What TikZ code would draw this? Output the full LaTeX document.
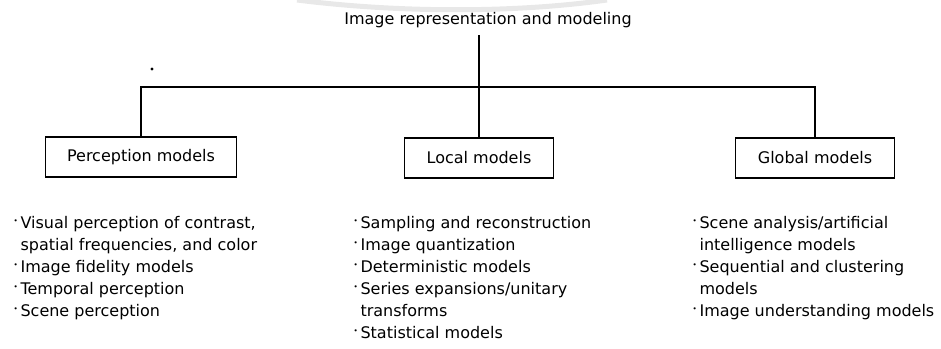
\documentclass[tikz,border=0pt]{standalone}
\usepackage{graphicx}
\usepackage{fontspec}
\setmainfont{DejaVu Sans}

\newcommand{\bul}{\makebox[7pt][l]{\raisebox{0.55ex}{\scalebox{0.45}{\textbullet}}}}
\newcommand{\nob}{\hspace*{7pt}}

\begin{document}
\begin{tikzpicture}[x=1pt,y=-1pt,line width=1.1pt,
  font=\fontsize{16}{22}\selectfont,
  box/.style={draw,minimum height=40pt,inner xsep=22pt},
  list/.style={anchor=north west,align=left,inner sep=0pt}]
\useasboundingbox (0,0) rectangle (941,348);

\draw[gray!18,line width=5pt] (297,0) .. controls (400,13) and (515,13) .. (607,0);

\node[anchor=base] (title) at (488,24) {Image representation and modeling};
\node[circle,fill,inner sep=1.1pt] (dot) at (152,69) {};

\node[box] (perc) at (141,157) {Perception models};
\node[box] (local) at (479,158) {Local models};
\node[box] (glob) at (815,158) {Global models};

\coordinate (stem) at (479,35);
\coordinate (hub) at (479,87);
\draw (stem) -- (local.north);
\draw (perc.north) |- (hub) -| (glob.north);

\node[list] (plist) at (13,216) {\bul Visual perception of contrast,\\
  \nob spatial frequencies, and color\\
  \bul Image fidelity models\\
  \bul Temporal perception\\
  \bul Scene perception};
\node[list] (llist) at (353,216) {\bul Sampling and reconstruction\\
  \bul Image quantization\\
  \bul Deterministic models\\
  \bul Series expansions/unitary\\
  \nob transforms\\
  \bul Statistical models};
\node[list] (glist) at (692,216) {\bul Scene analysis/artificial\\
  \nob intelligence models\\
  \bul Sequential and clustering\\
  \nob models\\
  \bul Image understanding models};

\end{tikzpicture}
\end{document}
